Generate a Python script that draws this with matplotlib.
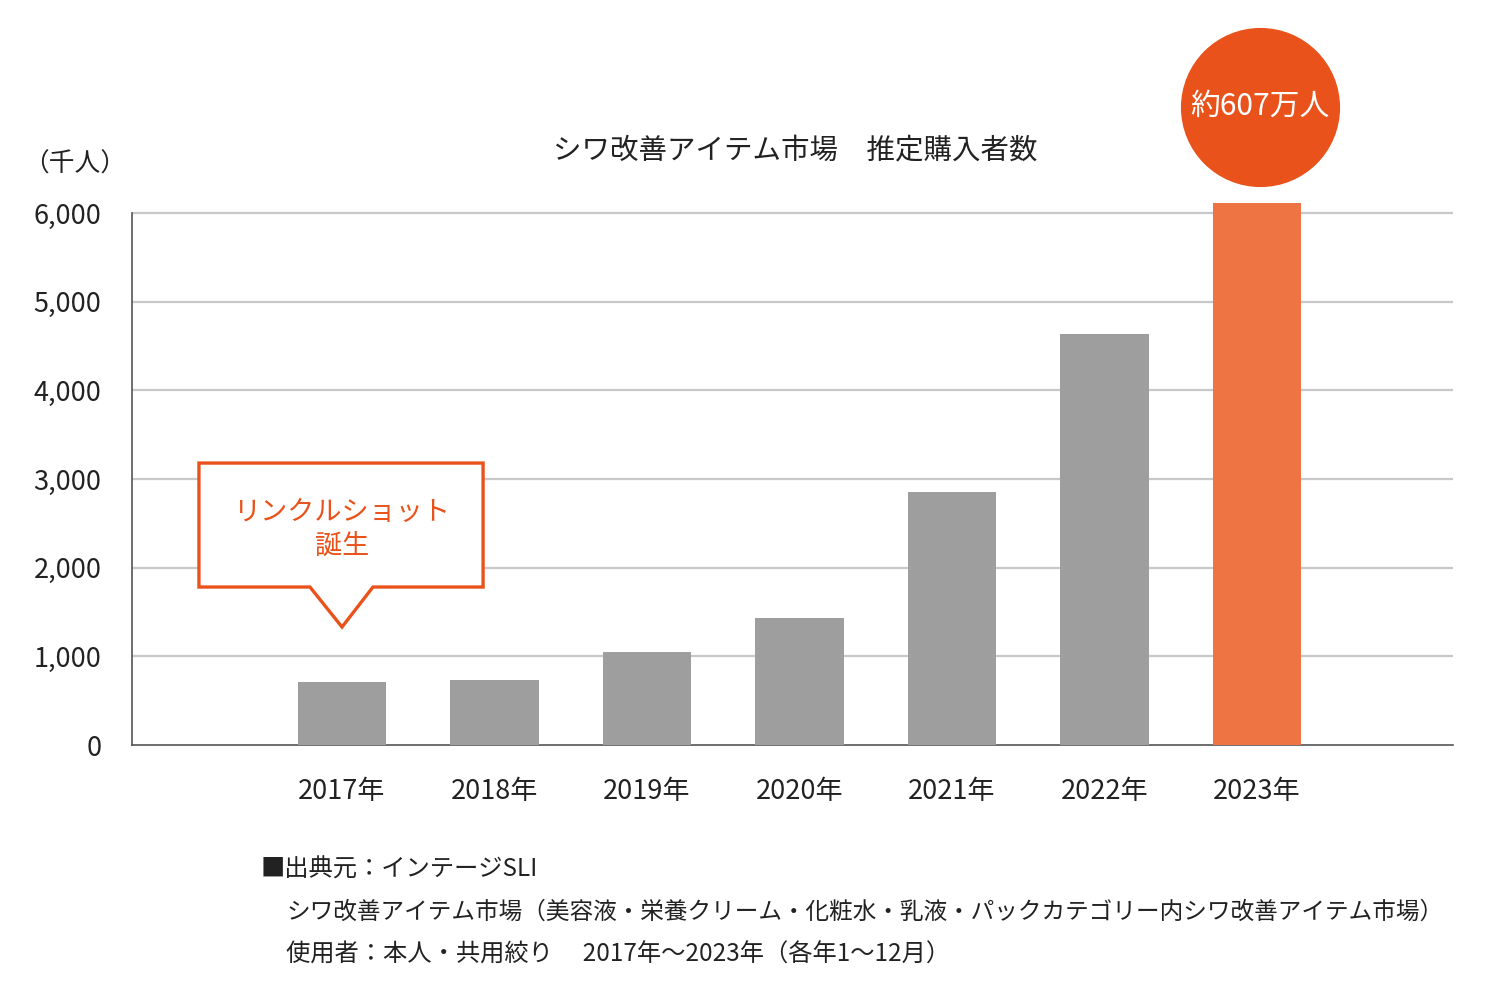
import matplotlib
matplotlib.use('Agg')
import matplotlib.pyplot as plt
from matplotlib.patches import Polygon

plt.rcParams['font.family'] = ['Noto Sans CJK JP', 'DejaVu Sans']

# data
years = ['2017年', '2018年', '2019年', '2020年', '2021年', '2022年', '2023年']
buyers = [710, 730, 1045, 1435, 2850, 4630, 6110]   # thousand people
yticks = [0, 1000, 2000, 3000, 4000, 5000, 6000]
ytick_labels = ['0', '1,000', '2,000', '3,000', '4,000', '5,000', '6,000']

gray = '#9e9e9f'
orange_bar = '#ee7444'
orange = '#e9521a'
colors = [gray] * 6 + [orange_bar]

fig = plt.figure(figsize=(15, 9.93), dpi=100)
ax = fig.add_axes([0.088, 0.2497, 0.8807, 0.5626])

x = list(range(len(years)))
ax.bar(x, buyers, width=0.58, color=colors, zorder=3)
ax.set_xlim(-1.377, 7.285)
ax.set_ylim(0, 6300)

ax.set_yticks(yticks)
ax.set_yticklabels(ytick_labels, fontsize=19.5, color='#222222')
ax.set_xticks(x)
ax.set_xticklabels(years, fontsize=19.5, color='#222222')
ax.tick_params(axis='y', length=0, pad=22)
ax.tick_params(axis='x', length=0, pad=24)

for v in yticks[1:]:
    ax.axhline(v, color='#c8c8c8', lw=1.6, zorder=1)
for s in ['top', 'right']:
    ax.spines[s].set_visible(False)
ax.spines['left'].set_bounds(0, 6000)
ax.spines['left'].set_color('#555555')
ax.spines['bottom'].set_color('#555555')
ax.spines['left'].set_linewidth(1.2)
ax.spines['bottom'].set_linewidth(1.2)

# title and unit
fig.text(0.530, 0.848, 'シワ改善アイテム市場　推定購入者数', fontsize=20.5,
         ha='center', va='center', color='#222222')
fig.text(0.050, 0.834, '（千人）', fontsize=18.5, ha='center', va='center', color='#222222')

# circle badge for 2023
ax.scatter([6.02], [7200], s=12900, color=orange, clip_on=False, zorder=5)
ax.text(6.02, 7200, '約607万人', fontsize=21.5, color='white', ha='center',
        va='center', clip_on=False, zorder=6)

# callout box for 2017
callout = Polygon([(-0.938, 3180), (0.925, 3180), (0.925, 1782), (0.203, 1782),
                   (0.0, 1331), (-0.21, 1782), (-0.938, 1782)],
                  closed=True, facecolor='white', edgecolor=orange, lw=2.4, zorder=4)
ax.add_patch(callout)
ax.text(0.0, 2430, 'リンクルショット\n誕生', fontsize=19.5, color=orange,
        ha='center', va='center', linespacing=1.3, zorder=5)

# source notes
fig.text(0.174, 0.124, '■出典元：インテージSLI', fontsize=17.5, va='center', color='#222222')
fig.text(0.191, 0.081, 'シワ改善アイテム市場（美容液・栄養クリーム・化粧水・乳液・パックカテゴリー内シワ改善アイテム市場）',
         fontsize=17, va='center', color='#222222')
fig.text(0.191, 0.039, '使用者：本人・共用絞り　 2017年～2023年（各年1～12月）',
         fontsize=17.5, va='center', color='#222222')

fig.savefig('out.png', dpi=100, facecolor='white')
